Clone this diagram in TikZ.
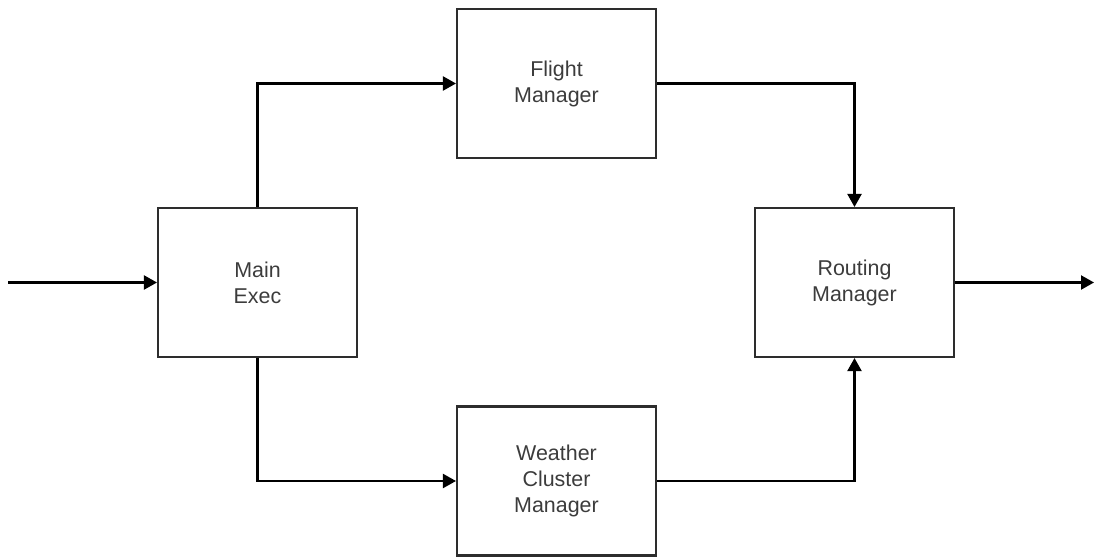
\documentclass[tikz,border=0pt]{standalone}
\usepackage{fontspec}
\setmainfont{Liberation Sans}
\usepackage{tikz}
\usetikzlibrary{positioning,arrows.meta}
\definecolor{blockgray}{RGB}{45,45,45}
\definecolor{labelgray}{RGB}{60,60,60}

\begin{document}
\begin{tikzpicture}[x=0.02cm,y=-0.02cm,
  block/.style={draw=blockgray,line width=1.2pt,minimum width=3.98cm,minimum height=2.98cm,align=center,text=labelgray,font=\fontsize{12.2pt}{14.8pt}\selectfont},
  flow/.style={draw=black,line width=1.2pt,-{Triangle[length=0.26cm,width=0.28cm]}}]
  \useasboundingbox (0,0) rectangle (1094,557);
  \node[block] (exec) at (257.5,282.5) {Main\\Exec};
  \node[block] (flight) at (556.5,83.5) {Flight\\Manager};
  \node[block] (routing) at (854.5,282.5) {Routing\\Manager};
  \node[block] (weather) at (556.5,481) {Weather\\Cluster\\Manager};
  \coordinate (in) at (8,282.5);
  \coordinate (out) at (1094,282.5);
  \draw[flow] (in) -- (exec.west);
  \draw[flow] (exec.north) |- (flight.west);
  \draw[flow] (exec.south) |- (weather.west);
  \draw[flow] (flight.east) -| (routing.north);
  \draw[flow] (weather.east) -| (routing.south);
  \draw[flow] (routing.east) -- (out);
\end{tikzpicture}
\end{document}
